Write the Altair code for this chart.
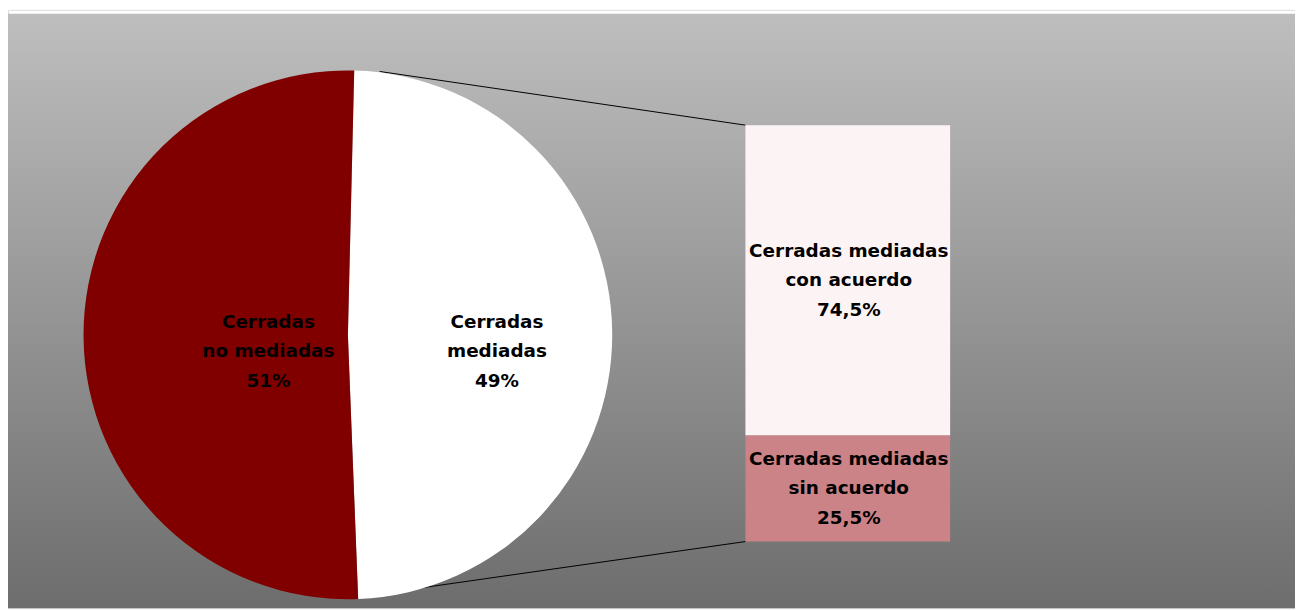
import altair as alt
import pandas as pd
import math

# ---- data ----
pie_categories = ["Cerradas mediadas", "Cerradas no mediadas"]
pie_values = [49, 51]
pie_colors = ["#ffffff", "#800000"]

bar_categories = ["Cerradas mediadas sin acuerdo", "Cerradas mediadas con acuerdo"]
bar_values = [25.5, 74.5]
bar_colors = ["#cc8388", "#fcf4f4"]
bar_labels = [["Cerradas mediadas", "sin acuerdo", "25,5%"],
              ["Cerradas mediadas", "con acuerdo", "74,5%"]]

pie_labels = [["Cerradas", "no mediadas", "51%"], ["Cerradas", "mediadas", "49%"]]

W, H = 1295, 602
FONT = "DejaVu Sans"
FS = 18.5
LH = 29.5

# ---- tables ----
pie_df = pd.DataFrame({"cat": pie_categories, "value": pie_values,
                       "order": list(range(len(pie_values))), "fill": pie_colors})

starts, ends, acc = [], [], 0.0
for v in bar_values:
    starts.append(acc)
    acc += v
    ends.append(acc)
bar_df = pd.DataFrame({"cat": bar_categories, "start": starts, "end": ends,
                       "mid": [(s + e) / 2 for s, e in zip(starts, ends)],
                       "label": bar_labels, "fill": bar_colors})

base = alt.Chart(pd.DataFrame({"k": [0]}))

background = base.mark_rect(
    color=alt.Gradient(
        gradient="linear",
        stops=[alt.GradientStop(color="#bebebe", offset=0),
               alt.GradientStop(color="#6d6d6d", offset=1)],
        x1=0, x2=0, y1=0, y2=1,
    )
).encode(x=alt.value(0), x2=alt.value(W), y=alt.value(4), y2=alt.value(H))

pie = alt.Chart(pie_df).mark_arc(radius=266).encode(
    theta=alt.Theta("value:Q", stack=True,
                    scale=alt.Scale(range=[0.024, 0.024 + 2 * math.pi])),
    order=alt.Order("order:Q"),
    fill=alt.Fill("fill:N", scale=None),
    x=alt.value(342), y=alt.value(327),
)

ysc = alt.Scale(domain=[0, 100], range=[535, 116])
BX0, BX1 = 742, 948

bar = alt.Chart(bar_df).mark_rect().encode(
    x=alt.value(BX0), x2=alt.value(BX1),
    y=alt.Y("start:Q", scale=ysc, axis=None),
    y2="end:Q",
    fill=alt.Fill("fill:N", scale=None),
)

text_style = dict(font=FONT, fontSize=FS, fontWeight="bold", color="black",
                  lineHeight=LH, baseline="middle", align="center")

bar_text = alt.Chart(bar_df).mark_text(dy=-LH, **text_style).encode(
    x=alt.value((BX0 + BX1) / 2 + 1),
    y=alt.Y("mid:Q", scale=ysc, axis=None),
    text="label",
)

pie_text_left = base.mark_text(**text_style).encode(
    x=alt.value(262), y=alt.value(314), text=alt.value(pie_labels[0]))

pie_text_right = base.mark_text(**text_style).encode(
    x=alt.value(492), y=alt.value(314), text=alt.value(pie_labels[1]))

conn_top = base.mark_rule(color="black", strokeWidth=1).encode(
    x=alt.value(374), y=alt.value(62), x2=alt.value(BX0), y2=alt.value(116))
conn_bot = base.mark_rule(color="black", strokeWidth=1).encode(
    x=alt.value(399), y=alt.value(584), x2=alt.value(BX0), y2=alt.value(535))

chart = alt.layer(
    background, conn_top, conn_bot, pie, bar, bar_text, pie_text_left, pie_text_right
).properties(
    width=W, height=H, autosize=alt.AutoSizeParams(type="none"), padding=0
).configure_view(stroke=None).configure(background="white")

chart.save("out.html", embed_options={"renderer": "svg", "actions": False})
